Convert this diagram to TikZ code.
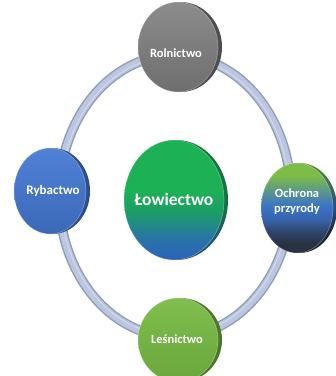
\documentclass[tikz,border=0pt]{standalone}
\usepackage{fontspec}
\setmainfont{Carlito}
\usetikzlibrary{shapes.geometric,calc}
\definecolor{ringlight}{HTML}{BCC6DE}
\definecolor{ringdark}{HTML}{8F9DC0}
\definecolor{lwA}{HTML}{2B63B6}
\definecolor{lwB}{HTML}{2A74A8}
\definecolor{lwC}{HTML}{1A9E66}
\definecolor{lwD}{HTML}{1DB155}
\definecolor{lrA}{HTML}{1E4C8C}
\definecolor{lrB}{HTML}{137045}
\definecolor{lrC}{HTML}{137A3C}
\definecolor{ocA}{HTML}{283241}
\definecolor{ocF}{HTML}{30466C}
\definecolor{ocB}{HTML}{3864AC}
\definecolor{ocC}{HTML}{3A72C8}
\definecolor{ocD}{HTML}{5C9A86}
\definecolor{ocE}{HTML}{7EBC48}
\definecolor{orA}{HTML}{1C2433}
\definecolor{orB}{HTML}{2A4C80}
\definecolor{orC}{HTML}{4F8A32}
\definecolor{grT}{HTML}{8C8C8C}
\definecolor{grB}{HTML}{6E6E6E}
\definecolor{grR}{HTML}{4E4E4E}
\definecolor{blT}{HTML}{4F82D6}
\definecolor{blB}{HTML}{3C68B8}
\definecolor{blR}{HTML}{2C4E8E}
\definecolor{gnT}{HTML}{80BE4E}
\definecolor{gnB}{HTML}{6AA63C}
\definecolor{gnR}{HTML}{4A7A28}
\pgfdeclareverticalshading{lowshade}{100bp}{
  color(0bp)=(lwA); color(25bp)=(lwA); color(34bp)=(lwB); color(45bp)=(lwC);
  color(54bp)=(lwD); color(100bp)=(lwD)}
\pgfdeclareverticalshading{lowrim}{100bp}{
  color(0bp)=(lrA); color(25bp)=(lrA); color(45bp)=(lrB); color(75bp)=(lrC); color(100bp)=(lrC)}
\pgfdeclareverticalshading{ochshade}{100bp}{
  color(0bp)=(ocA); color(30bp)=(ocA); color(37bp)=(ocF); color(44bp)=(ocB);
  color(51bp)=(ocC); color(60bp)=(ocD); color(68bp)=(ocE); color(100bp)=(ocE)}
\pgfdeclareverticalshading{ochrim}{100bp}{
  color(0bp)=(orA); color(35bp)=(orA); color(50bp)=(orB); color(75bp)=(orC); color(100bp)=(orC)}
\tikzset{
  rimst/.style={ellipse, inner sep=0pt, draw=none},
  face/.style={ellipse, inner sep=0pt, draw=white, draw opacity=0.3, line width=0.7pt},
  lbl/.style={text=white, font=\bfseries, align=center, inner sep=0pt}
}
% name, x, y, rx, ry, rim options, face options
\newcommand\mydisc[7]{%
  \node[rimst, minimum width=2*#4pt+1pt, minimum height=2*#5pt, #6, xshift=2.5pt] (#1rim) at (#2,#3) {};
  \node[face, minimum width=2*#4pt-2pt, minimum height=2*#5pt, #7] (#1) at (#2,#3) {};
}
\begin{document}
\begin{tikzpicture}[x=1pt,y=-1pt]
\useasboundingbox (0,0) rectangle (336,376);
\coordinate (ringc) at (175,196);
% ring
\draw[ringdark, line width=10pt] (ringc) ellipse[x radius=116, y radius=141];
\draw[ringlight, line width=7pt] (ringc) ellipse[x radius=116, y radius=141];
\draw[white, opacity=0.35, line width=1pt] (ringc) ellipse[x radius=114.5, y radius=139.5];
% discs
\mydisc{rol}{178}{47}{41}{45}{fill=grR}{top color=grT, bottom color=grB}
\mydisc{ryb}{50}{191}{37}{43}{fill=blR}{top color=blT, bottom color=blB}
\mydisc{och}{297}{208}{37}{45}{shade, shading=ochrim}{shade, shading=ochshade}
\mydisc{les}{178}{340}{41}{42}{fill=gnR}{top color=gnT, bottom color=gnB}
\mydisc{low}{174}{200}{51}{60}{shade, shading=lowrim}{shade, shading=lowshade}
% labels
\node[lbl, font=\bfseries\fontsize{12.5}{14}\selectfont] (rolt) at (176,53) {Rolnictwo};
\node[lbl, font=\bfseries\fontsize{13}{15}\selectfont] (rybt) at (53,191) {Rybactwo};
\node[lbl, font=\bfseries\fontsize{12.5}{15}\selectfont] (ocht) at (297,202) {Ochrona\\przyrody};
\node[lbl, font=\bfseries\fontsize{12.5}{14}\selectfont] (lest) at (177,339) {Leśnictwo};
\node[lbl, font=\bfseries\fontsize{17.5}{20}\selectfont] (lowt) at (174,199) {Łowiectwo};
\end{tikzpicture}
\end{document}
